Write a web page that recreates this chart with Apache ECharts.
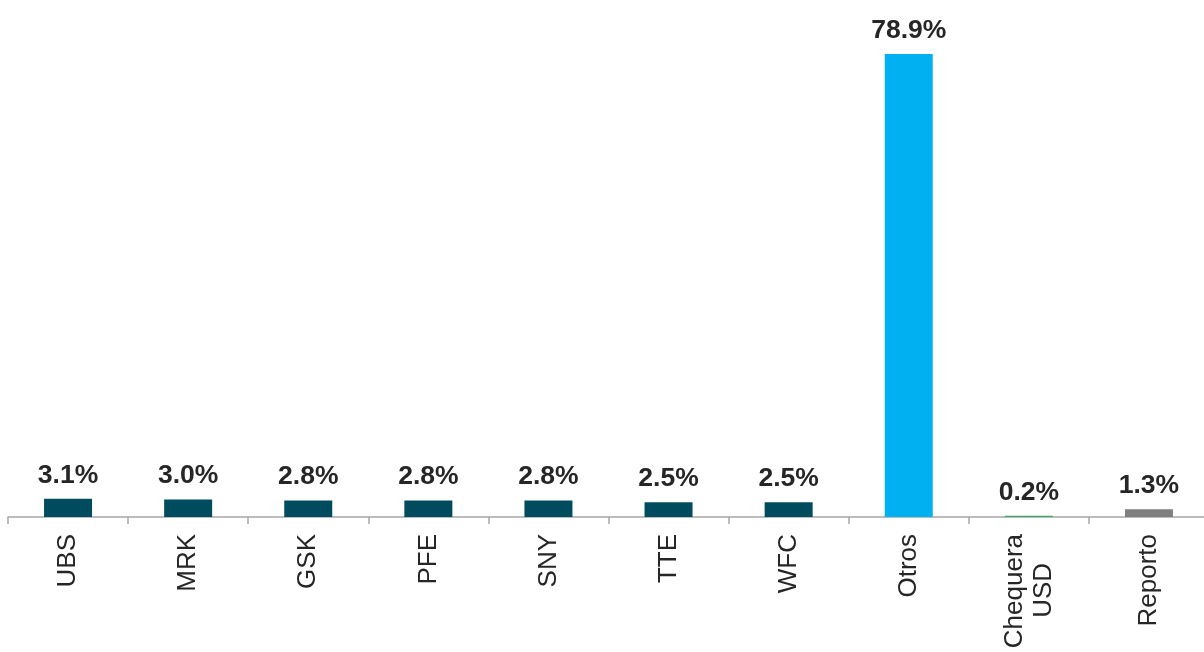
<!DOCTYPE html>
<html>
<head>
<meta charset="utf-8">
<script src="https://cdn.jsdelivr.net/npm/echarts@6/dist/echarts.min.js"></script>
<style>html,body{margin:0;padding:0;background:#fff;overflow:hidden;}#c{width:1214px;height:652px;}</style>
</head>
<body>
<div id="c"></div>
<script>
const categories = ['UBS', 'MRK', 'GSK', 'PFE', 'SNY', 'TTE', 'WFC', 'Otros', 'Chequera\nUSD', 'Reporto'];
const values = [3.1, 3.0, 2.8, 2.8, 2.8, 2.5, 2.5, 78.9, 0.2, 1.3];
const barColors = ['#004C5E', '#004C5E', '#004C5E', '#004C5E', '#004C5E', '#004C5E', '#004C5E', '#00B0F0', '#3DAA6E', '#7F7F7F'];

const FONT = 'Liberation Sans, Arial, sans-serif';

// Rotated labels are end-aligned; pad shorter lines with an invisible token so lines look centred.
function centreLines(v) {
  const lines = String(v).split('\n');
  if (lines.length < 2) return v;
  const ctx = document.createElement('canvas').getContext('2d');
  ctx.font = '26px ' + FONT;
  const widths = lines.map(s => ctx.measureText(s).width);
  const maxW = Math.max.apply(null, widths);
  const uw = ctx.measureText('_').width;
  return lines.map((s, i) => {
    const n = Math.round((maxW - widths[i]) / 2 / uw);
    return '{t|' + s + '}' + (n > 0 ? '{p|' + '_'.repeat(n) + '}' : '');
  }).join('\n');
}

const chart = echarts.init(document.getElementById('c'), null, {renderer: 'canvas'});
chart.setOption({
  animation: false,
  backgroundColor: '#ffffff',
  grid: {left: 8, top: 47.6, width: 1201, height: 469.4, containLabel: false},
  xAxis: {
    type: 'category',
    data: categories,
    axisLine: {lineStyle: {color: '#A6A6A6', width: 1.5}},
    axisTick: {show: true, length: 7, lineStyle: {color: '#A6A6A6', width: 1.5}},
    axisLabel: {
      rotate: 90, margin: 17, fontSize: 26, color: '#262626',
      fontFamily: FONT, lineHeight: 29, interval: 0,
      formatter: centreLines,
      rich: {
        t: {fontSize: 26, lineHeight: 29, color: '#262626', fontFamily: FONT},
        p: {fontSize: 26, lineHeight: 29, color: 'rgba(255,255,255,0)', fontFamily: FONT}
      }
    }
  },
  yAxis: {type: 'value', min: 0, max: 80, show: false, splitLine: {show: false}},
  series: [{
    type: 'bar',
    barWidth: 48,
    data: values.map((v, i) => ({value: v, itemStyle: {color: barColors[i]}})),
    label: {
      show: true, position: 'top', distance: 10,
      formatter: p => p.value.toFixed(1) + '%',
      fontSize: 26.5, fontWeight: 'bold', color: '#262626',
      fontFamily: FONT
    }
  }]
});
</script>
</body>
</html>
